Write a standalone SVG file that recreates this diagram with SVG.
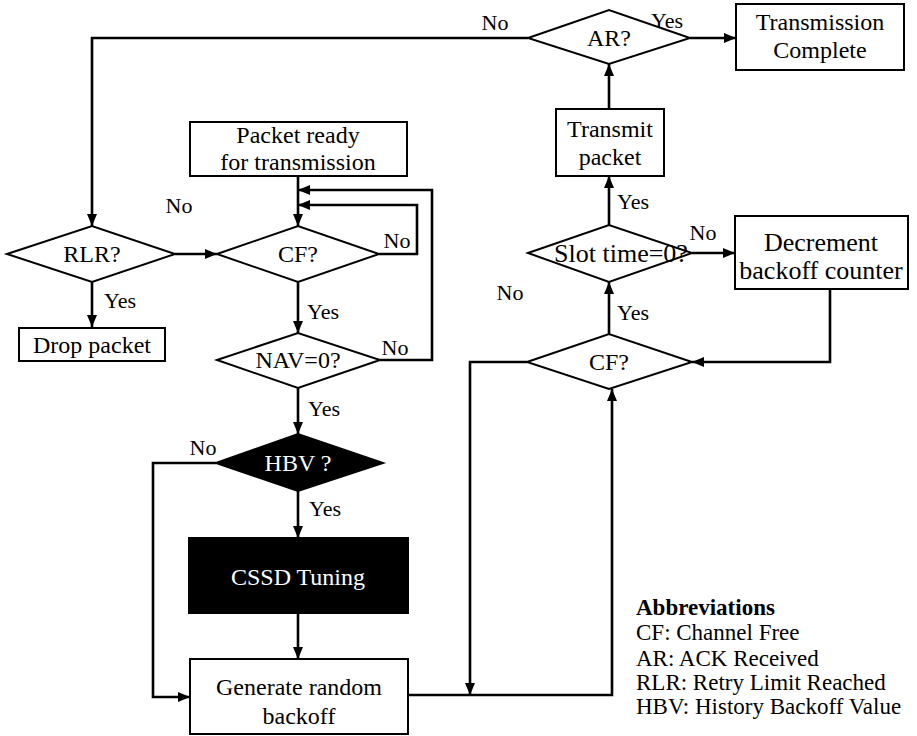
<svg xmlns="http://www.w3.org/2000/svg" width="917" height="736" viewBox="0 0 917 736">
  <style>
    .box { fill: #fff; stroke: #000; stroke-width: 2; }
    .dark { fill: #000; stroke: #000; stroke-width: 2; }
    .t { font-family: "Liberation Serif", "Times New Roman", serif; font-size: 24px; fill: #000; text-anchor: middle; }
    .big { font-size: 26px; }
    .w { fill: #fff; }
    .lbl { font-family: "Liberation Serif", "Times New Roman", serif; font-size: 22px; fill: #000; text-anchor: middle; }
    .ab { font-family: "Liberation Serif", "Times New Roman", serif; font-size: 23px; fill: #000; }
    .bold { font-weight: bold; }
    .line { fill: none; stroke: #000; stroke-width: 2.6; }
    .arr { marker-end: url(#ah); }
  </style>
  <defs>
    <marker id="ah" markerUnits="userSpaceOnUse" markerWidth="12" markerHeight="10" refX="12" refY="5" orient="auto">
      <path d="M0,0 L12,5 L0,10 Z" fill="#000"/>
    </marker>
  </defs>

  <!-- connectors -->
  <g id="connectors">
    <!-- AR: yes -> complete, no -> retry check -->
    <path class="line arr" d="M690,38 L736,38"/>
    <path class="line arr" d="M528,38 L92,38 L92,226"/>
    <!-- transmit -> AR -->
    <path class="line arr" d="M609,109 L609,64"/>
    <!-- slot time yes -> transmit -->
    <path class="line arr" d="M609,225 L609,176"/>
    <!-- slot time no -> decrement -->
    <path class="line arr" d="M692,253 L735,253"/>
    <!-- decrement -> CF (right) -->
    <path class="line arr" d="M830,289 L830,362 L692,362"/>
    <!-- CF (right) yes -> slot time -->
    <path class="line arr" d="M609,334 L609,282"/>
    <!-- CF (right) no -> back down -->
    <path class="line arr" d="M527,362 L470,362 L470,695"/>
    <!-- backoff -> CF (right) -->
    <path class="line arr" d="M408,695 L612,695 L612,389"/>
    <!-- packet ready -> CF -->
    <path class="line arr" d="M298,176 L298,226"/>
    <!-- CF no loop -->
    <path class="line arr" d="M379,254 L417,254 L417,205 L298,205"/>
    <!-- NAV no loop -->
    <path class="line arr" d="M380,360 L432,360 L432,190 L298,190"/>
    <!-- RLR -> CF -->
    <path class="line arr" d="M175,254 L217,254"/>
    <!-- RLR yes -> drop -->
    <path class="line arr" d="M92,282 L92,327"/>
    <!-- CF yes -> NAV -->
    <path class="line arr" d="M298,282 L298,333"/>
    <!-- NAV yes -> HBV -->
    <path class="line arr" d="M298,388 L298,434"/>
    <!-- HBV yes -> CSSD -->
    <path class="line arr" d="M298,491 L298,538"/>
    <!-- HBV no -> backoff -->
    <path class="line arr" d="M216,463 L153,463 L153,697 L190,697"/>
    <!-- CSSD -> backoff -->
    <path class="line arr" d="M298,613 L298,659"/>

    <!-- branch labels -->
    <text class="lbl" x="495" y="30">No</text>
    <text class="lbl" x="667" y="28">Yes</text>
    <text class="lbl" x="633" y="209">Yes</text>
    <text class="lbl" x="703" y="240">No</text>
    <text class="lbl" x="510" y="300">No</text>
    <text class="lbl" x="633" y="320">Yes</text>
    <text class="lbl" x="179" y="213">No</text>
    <text class="lbl" x="397" y="248">No</text>
    <text class="lbl" x="120" y="308">Yes</text>
    <text class="lbl" x="323" y="319">Yes</text>
    <text class="lbl" x="395" y="355">No</text>
    <text class="lbl" x="324" y="416">Yes</text>
    <text class="lbl" x="203" y="455">No</text>
    <text class="lbl" x="325" y="516">Yes</text>
  </g>

  <g id="ar">
    <polygon class="box" points="528,38 609,10 690,38 609,64"/>
    <text class="t" x="609" y="46">AR?</text>
  </g>
  <g id="complete">
    <rect class="box" x="736" y="4" width="168" height="66"/>
    <text class="t" x="820" y="30">Transmission</text>
    <text class="t" x="820" y="58">Complete</text>
  </g>
  <g id="transmit">
    <rect class="box" x="556" y="109" width="108" height="67"/>
    <text class="t" x="610" y="137">Transmit</text>
    <text class="t" x="610" y="165">packet</text>
  </g>
  <g id="packet-ready">
    <rect class="box" x="190" y="122" width="217" height="54"/>
    <text class="t" x="298" y="143">Packet ready</text>
    <text class="t" x="298" y="170">for transmission</text>
  </g>
  <g id="rlr">
    <polygon class="box" points="7,254 92,226 175,254 92,282"/>
    <text class="t" x="92" y="262">RLR?</text>
  </g>
  <g id="drop">
    <rect class="box" x="19" y="328" width="146" height="33"/>
    <text class="t" x="92" y="353">Drop packet</text>
  </g>
  <g id="cf-left">
    <polygon class="box" points="217,254 298,226 379,254 298,282"/>
    <text class="t" x="298" y="262">CF?</text>
  </g>
  <g id="nav">
    <polygon class="box" points="217,360 298,333 380,360 298,388"/>
    <text class="t" x="298" y="368">NAV=0?</text>
  </g>
  <g id="hbv">
    <polygon class="dark" points="216,463 298,434 383,463 298,491"/>
    <text class="t w" x="298" y="471">HBV ?</text>
  </g>
  <g id="cssd">
    <rect class="dark" x="189" y="538" width="219" height="75"/>
    <text class="t w" x="298" y="585">CSSD Tuning</text>
  </g>
  <g id="backoff">
    <rect class="box" x="190" y="659" width="218" height="75"/>
    <text class="t" x="299" y="695">Generate random</text>
    <text class="t" x="299" y="724">backoff</text>
  </g>
  <g id="slot">
    <polygon class="box" points="528,253 609,225 692,253 609,282"/>
    <text class="t big" x="621" y="262">Slot time=0?</text>
  </g>
  <g id="decrement">
    <rect class="box" x="735" y="216" width="173" height="73"/>
    <text class="t big" x="821" y="251">Decrement</text>
    <text class="t big" x="821" y="279">backoff counter</text>
  </g>
  <g id="cf-right">
    <polygon class="box" points="527,362 609,334 692,362 609,389"/>
    <text class="t" x="609" y="370">CF?</text>
  </g>

  <g id="abbreviations">
    <text class="ab bold" x="636" y="615">Abbreviations</text>
    <text class="ab" x="636" y="640">CF: Channel Free</text>
    <text class="ab" x="636" y="666">AR: ACK Received</text>
    <text class="ab" x="636" y="690">RLR: Retry Limit Reached</text>
    <text class="ab" x="636" y="714">HBV: History Backoff Value</text>
  </g>
</svg>
